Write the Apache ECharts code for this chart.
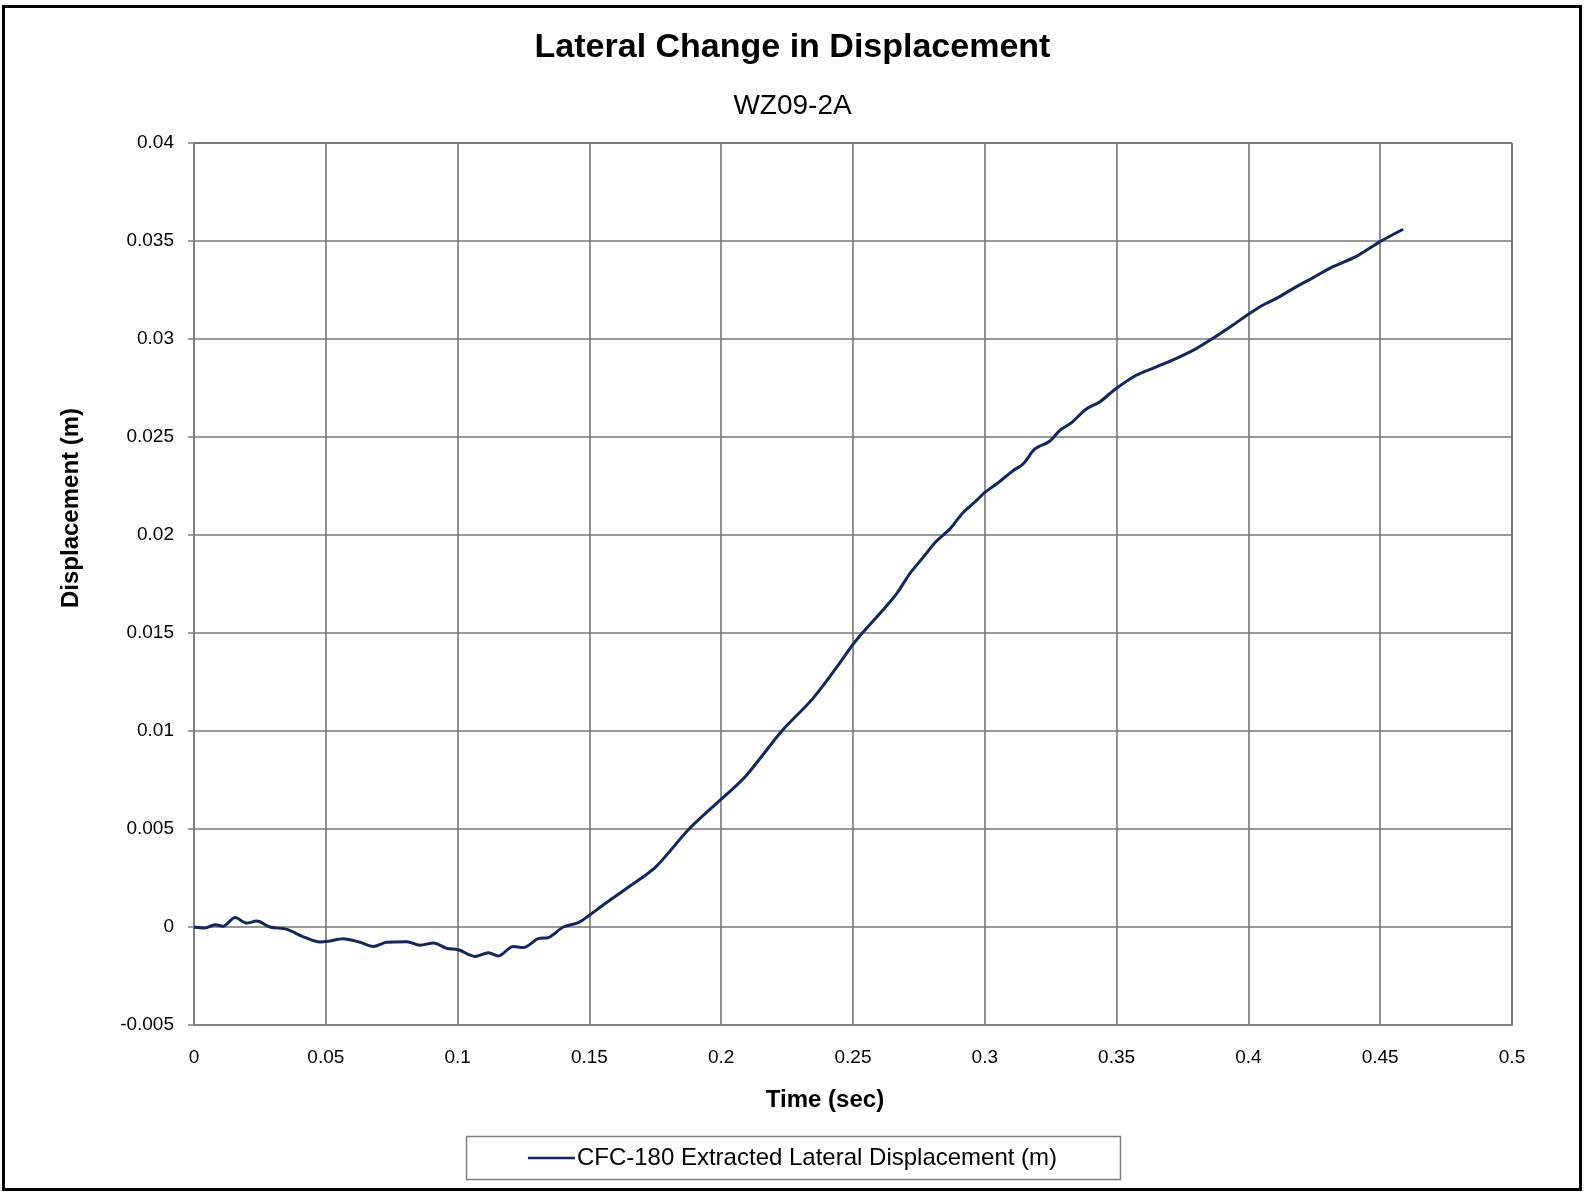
<!DOCTYPE html>
<html>
<head>
<meta charset="utf-8">
<script src="https://cdn.jsdelivr.net/npm/echarts@6/dist/echarts.min.js"></script>
<style>
html,body{margin:0;padding:0;background:#fff;}
#chart{width:1585px;height:1192px;}
</style>
</head>
<body>
<div id="chart"></div>
<script>
const timeSec = [0, 0.004, 0.008, 0.011, 0.0156, 0.020, 0.0238, 0.0288, 0.0352, 0.0415, 0.0478, 0.0509, 0.0566, 0.063, 0.068, 0.0731, 0.0807, 0.0857, 0.0908, 0.0959, 0.1003, 0.1066, 0.1117, 0.1154, 0.1211, 0.1249, 0.1306, 0.1344, 0.1401, 0.1458, 0.15, 0.155, 0.165, 0.1752, 0.1878, 0.2, 0.2092, 0.223, 0.2344, 0.2432, 0.25, 0.2538, 0.2601, 0.2665, 0.2715, 0.2766, 0.2816, 0.2867, 0.2918, 0.2968, 0.3, 0.3044, 0.3107, 0.3145, 0.319, 0.3246, 0.3284, 0.3328, 0.3385, 0.3434, 0.3497, 0.3573, 0.3649, 0.3725, 0.3802, 0.3864, 0.394, 0.4, 0.4054, 0.4117, 0.4181, 0.4244, 0.4319, 0.4408, 0.45, 0.4587];
const displacement = [0, -0.00005, 0.00012, 0.00004, 0.00048, 0.0002, 0.0003, 0.0, -0.00012, -0.0005, -0.00077, -0.00073, -0.0006, -0.00078, -0.00099, -0.00078, -0.00075, -0.00093, -0.00082, -0.00109, -0.00116, -0.0015, -0.00131, -0.00148, -0.00099, -0.00105, -0.00059, -0.00054, 0.0, 0.00022, 0.0006, 0.0011, 0.00205, 0.00307, 0.005, 0.00652, 0.00768, 0.0100, 0.0116, 0.01314, 0.01442, 0.01504, 0.01598, 0.0170, 0.01802, 0.01886, 0.01968, 0.0203, 0.02115, 0.02175, 0.02217, 0.0226, 0.02328, 0.02362, 0.02439, 0.02478, 0.02533, 0.02572, 0.02643, 0.02677, 0.02746, 0.02814, 0.02857, 0.02900, 0.02951, 0.03002, 0.0307, 0.03126, 0.03172, 0.03215, 0.03266, 0.03312, 0.03368, 0.03420, 0.03497, 0.0356];
const seriesName = 'CFC-180 Extracted Lateral Displacement (m)';
const titleText = 'Lateral Change in Displacement';
const subtitleText = 'WZ09-2A';

const FONT = '"Liberation Sans", Arial, sans-serif';
const chart = echarts.init(document.getElementById('chart'));
const points = timeSec.map((t, i) => [t, displacement[i]]);

chart.setOption({
  backgroundColor: '#ffffff',
  animation: false,
  title: [
    { text: titleText, left: 'center', top: 26,
      textStyle: { fontFamily: FONT, fontSize: 34, fontWeight: 'bold', color: '#000' } },
    { text: subtitleText, left: 'center', top: 87,
      textStyle: { fontFamily: FONT, fontSize: 28, fontWeight: 'normal', color: '#000' } }
  ],
  grid: { left: 194, top: 143, right: 73, bottom: 167, containLabel: false },
  legend: {
    data: [seriesName],
    left: 'center',
    top: 1141,
    icon: 'rect',
    itemWidth: 47,
    itemHeight: 2.5,
    itemGap: 10,
    textStyle: { fontFamily: FONT, fontSize: 24, color: '#000', padding: [0, 0, 0, -3] }
  },
  xAxis: {
    type: 'value',
    min: 0, max: 0.5, interval: 0.05,
    name: 'Time (sec)',
    nameLocation: 'middle',
    nameGap: 63,
    nameTextStyle: { fontFamily: FONT, fontSize: 24, fontWeight: 'bold', color: '#000', padding: [0, 56, 0, 0] },
    axisLine: { show: true, onZero: false, lineStyle: { color: '#808080', width: 2 } },
    axisTick: { show: false },
    axisLabel: { fontFamily: FONT, fontSize: 19, color: '#000', margin: 23 },
    splitLine: { show: true, lineStyle: { color: '#777777', width: 1.6 } }
  },
  yAxis: {
    type: 'value',
    min: -0.005, max: 0.04, interval: 0.005,
    name: 'Displacement (m)',
    nameLocation: 'middle',
    nameRotate: 90,
    nameGap: 111,
    nameTextStyle: { fontFamily: FONT, fontSize: 24, fontWeight: 'bold', color: '#000', padding: [0, 0, 0, 152] },
    axisLine: { show: true, onZero: false, lineStyle: { color: '#808080', width: 2 } },
    axisTick: { show: true, inside: false, length: 6, lineStyle: { color: '#808080', width: 1.5 } },
    axisLabel: { fontFamily: FONT, fontSize: 19, color: '#000', margin: 20,
      formatter: v => String(parseFloat(v.toFixed(4))) },
    splitLine: { show: true, lineStyle: { color: '#777777', width: 1.6 } }
  },
  series: [{
    name: seriesName,
    type: 'line',
    data: points,
    showSymbol: false,
    symbol: 'none',
    smooth: 0.3,
    lineStyle: { color: '#13275c', width: 3 },
    itemStyle: { color: '#13275c' }
  }],
  graphic: [
    { type: 'rect', silent: true, z: -1,
      shape: { x: 3.5, y: 6.5, width: 1577, height: 1183 },
      style: { fill: 'none', stroke: '#000', lineWidth: 3 } },
    { type: 'rect', silent: true, z: -1,
      shape: { x: 466.5, y: 1136.5, width: 654, height: 43 },
      style: { fill: '#fff', stroke: '#808080', lineWidth: 1.5 } },
    { type: 'rect', silent: true, z: -1,
      shape: { x: 1512, y: 143, width: 0, height: 882 },
      style: { fill: 'none', stroke: '#808080', lineWidth: 2 } },
    { type: 'rect', silent: true, z: -1,
      shape: { x: 194, y: 143, width: 1318, height: 0 },
      style: { fill: 'none', stroke: '#808080', lineWidth: 2 } }
  ]
});
</script>
</body>
</html>
